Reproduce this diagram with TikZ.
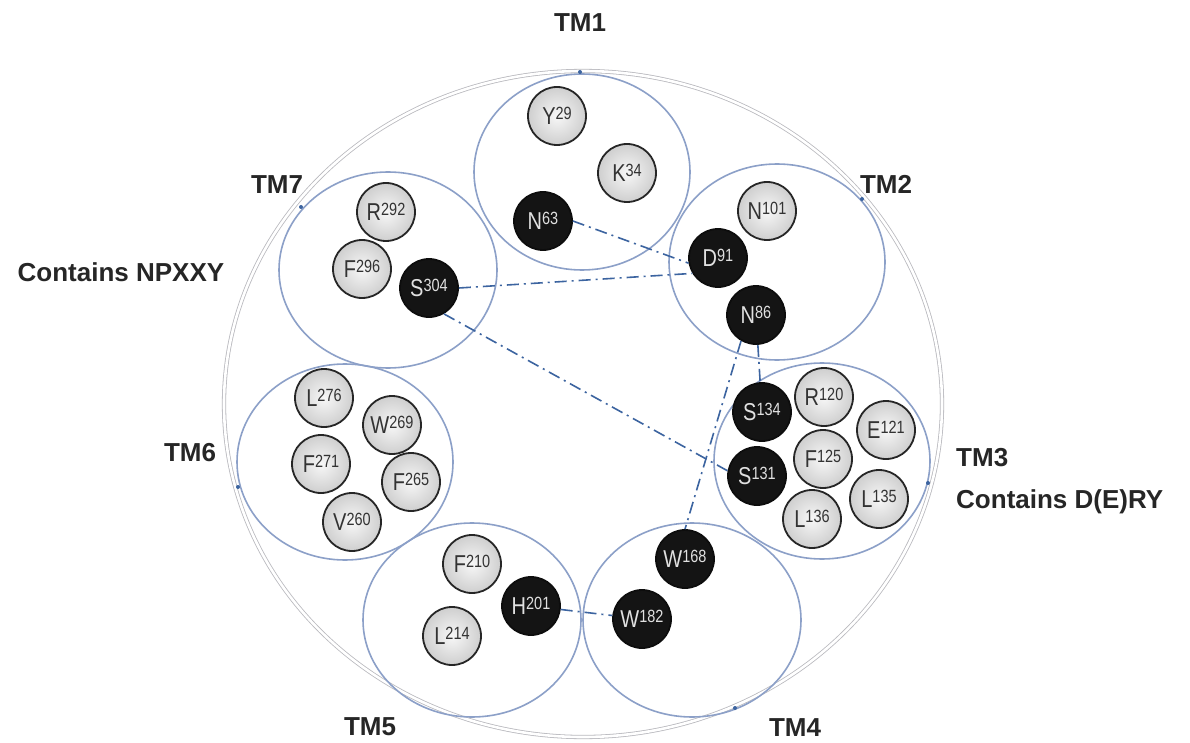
\documentclass[tikz,border=0pt]{standalone}
\usepackage{fontspec}
\setmainfont{Liberation Sans}
\definecolor{tmblue}{RGB}{140,160,200}
\definecolor{linkblue}{RGB}{60,100,160}
\definecolor{ringgray}{RGB}{185,185,190}
\newcommand{\resl}[2]{\scalebox{1}[1.22]{\fontsize{20}{20}\selectfont #1\raisebox{4pt}{\fontsize{14.5}{14.5}\selectfont #2}}}
\begin{document}
\begin{tikzpicture}[x=1pt,y=-1pt,
  res/.style={circle, minimum size=58pt, inner sep=0pt, line width=1.8pt},
  gres/.style={res, draw=black!85, inner color=gray!6, outer color=gray!38, text=black!80},
  bres/.style={res, draw=black!95, fill=black!92, text=white!88!black},
  tm/.style={draw=tmblue, line width=1.6pt},
  ring/.style={draw=ringgray, line width=0.8pt, double=white, double distance=2.6pt},
  link/.style={draw=linkblue, line width=1.6pt, dash pattern=on 12pt off 5pt on 2pt off 5pt},
  lab/.style={font=\fontsize{26}{26}\bfseries\selectfont, text=black!85, inner sep=0pt},
  tick/.style={circle, fill=linkblue, inner sep=0pt, minimum size=4pt}]
\useasboundingbox[fill=white] (0,0) rectangle (1190,743);
% outer ring
\draw[ring] (583,404) ellipse [x radius=359, y radius=333];
% TM helices
\draw[tm] (582,172) ellipse [x radius=108, y radius=98];
\draw[tm] (777,262) ellipse [x radius=108, y radius=98];
\draw[tm] (822,461) ellipse [x radius=108, y radius=98];
\draw[tm] (692,620) ellipse [x radius=109, y radius=97];
\draw[tm] (472,620) ellipse [x radius=109, y radius=97];
\draw[tm] (345,462) ellipse [x radius=108, y radius=98];
\draw[tm] (388,270) ellipse [x radius=109, y radius=98];
% small marks
\node[tick] (m1) at (580,72) {};
\node[tick] (m2) at (862,199) {};
\node[tick] (m7) at (301,207) {};
\node[tick] (m6) at (238,487) {};
\node[tick] (m3) at (928,483) {};
\node[tick] (m4) at (735,708) {};
% residues TM1
\node[gres] (Y29) at (557,116) {\resl{Y}{29}};
\node[gres] (K34) at (627,173) {\resl{K}{34}};
\node[bres] (N63) at (543,221) {\resl{N}{63}};
% TM2
\node[gres] (N101) at (767,211) {\resl{N}{101}};
\node[bres] (D91) at (718,258) {\resl{D}{91}};
\node[bres] (N86) at (756,315) {\resl{N}{86}};
% TM7
\node[gres] (R292) at (386,212) {\resl{R}{292}};
\node[gres] (F296) at (362,269) {\resl{F}{296}};
\node[bres] (S304) at (429,288) {\resl{S}{304}};
% TM3
\node[bres] (S134) at (762,412) {\resl{S}{134}};
\node[gres] (R120) at (824,397) {\resl{R}{120}};
\node[gres] (E121) at (886,430) {\resl{E}{121}};
\node[gres] (F125) at (823,459) {\resl{F}{125}};
\node[bres] (S131) at (757,476) {\resl{S}{131}};
\node[gres] (L135) at (879,499) {\resl{L}{135}};
\node[gres] (L136) at (812,519) {\resl{L}{136}};
% TM6
\node[gres] (L276) at (324,398) {\resl{L}{276}};
\node[gres] (W269) at (392,425) {\resl{W}{269}};
\node[gres] (F271) at (321,464) {\resl{F}{271}};
\node[gres] (F265) at (411,482) {\resl{F}{265}};
\node[gres] (V260) at (352,522) {\resl{V}{260}};
% TM5
\node[gres] (F210) at (472,564) {\resl{F}{210}};
\node[bres] (H201) at (531,606) {\resl{H}{201}};
\node[gres] (L214) at (452,636) {\resl{L}{214}};
% TM4
\node[bres] (W168) at (685,559) {\resl{W}{168}};
\node[bres] (W182) at (642,619) {\resl{W}{182}};
% links
\draw[link] (N63.east) -- (D91.190);
\draw[link] (S304.east) -- (D91.211);
\draw[link] (S304.300) -- (S131.170);
\draw[link] (N86) -- (S134);
\draw[link] (N86.240) -- (W168.north);
\draw[link] (H201) -- (W182);
% labels
\node[lab] (tm1) at (580,23) {TM1};
\node[lab] (tm2) at (886,184) {TM2};
\node[lab] (tm7) at (277,185) {TM7};
\node[lab] (npx) at (121,272) {Contains NPXXY};
\node[lab] (tm6) at (190,453) {TM6};
\node[lab, anchor=west] (tm3) at (956,458) {TM3};
\node[lab, anchor=west] (dry) at (956,502) {Contains D(E)RY};
\node[lab] (tm5) at (370,727) {TM5};
\node[lab] (tm4) at (795,728) {TM4};
\end{tikzpicture}
\end{document}
